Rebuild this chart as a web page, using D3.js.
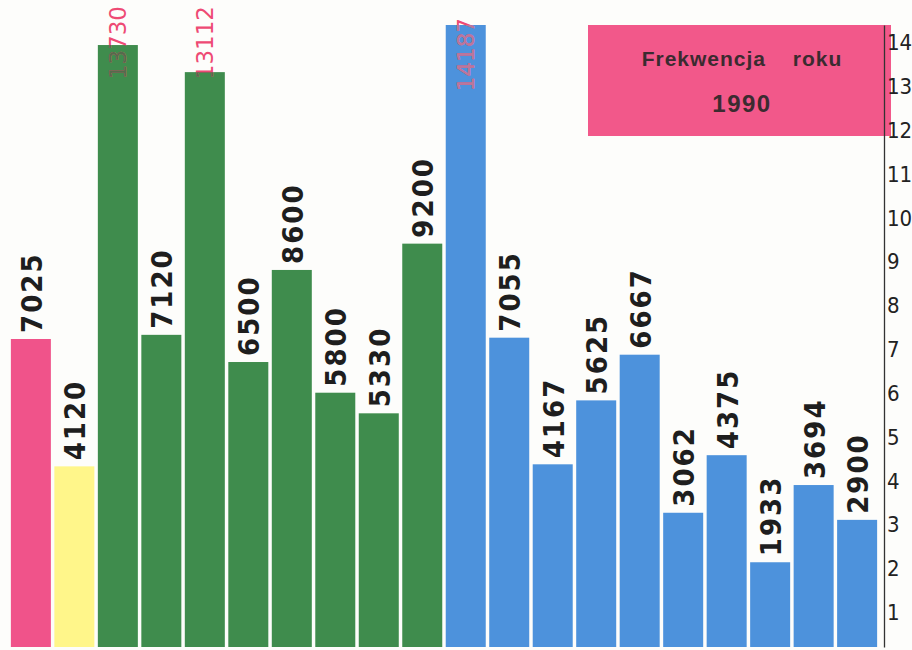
<!DOCTYPE html>
<html>
<head>
<meta charset="utf-8">
<script src="https://cdn.jsdelivr.net/npm/d3@7"></script>
<style>
  html, body { margin: 0; padding: 0; background: #fdfdfb; }
  svg { display: block; }
</style>
</head>
<body>
<svg id="chart" width="912" height="650"></svg>
<script>
// ---- data ----
const values = [7025, 4120, 13730, 7120, 13112, 6500, 8600, 5800, 5330, 9200,
                14187, 7055, 4167, 5625, 6667, 3062, 4375, 1933, 3694, 2900];
const groups = ["pink", "yellow", "green", "green", "green", "green", "green", "green", "green", "green",
                "blue", "blue", "blue", "blue", "blue", "blue", "blue", "blue", "blue", "blue"];
const axisTicks = [1, 2, 3, 4, 5, 6, 7, 8, 9, 10, 11, 12, 13, 14];
const legendLines = ["Frekwencja  roku", "1990"];

// ---- styles ----
const colors = { pink: "#f0538a", yellow: "#fff68a", green: "#3f8c4d", blue: "#4d92dc" };
const svg = d3.select("#chart");

const x = d3.scaleBand().domain(d3.range(values.length)).range([10, 878]).paddingInner(0.08).paddingOuter(0.02);
const y = d3.scaleLinear().domain([0, 14187]).range([647, 25]);

const defs = svg.append("defs");

// bars
svg.append("g").selectAll("rect").data(values).join("rect")
  .attr("x", (d, i) => x(i))
  .attr("y", d => y(d))
  .attr("width", x.bandwidth())
  .attr("height", d => y(0) - y(d))
  .attr("fill", (d, i) => colors[groups[i]]);

// clip paths matching each bar (for two-tone labels)
values.forEach((d, i) => {
  defs.append("clipPath").attr("id", "clip" + i).append("rect")
    .attr("x", x(i)).attr("y", y(d)).attr("width", x.bandwidth()).attr("height", y(0) - y(d));
});

const tall = 13000;
const lab = svg.append("g");

// handwritten-like labels above bars
values.forEach((d, i) => {
  if (d >= tall) return;
  const cx = x(i) + x.bandwidth() / 2;
  const by = y(d) - 6;
  lab.append("text")
    .attr("transform", `translate(${cx + 11},${by}) rotate(-90)`)
    .attr("font-family", "'DejaVu Sans Condensed', 'DejaVu Sans', sans-serif")
    .attr("font-stretch", "condensed")
    .attr("font-weight", "bold")
    .attr("font-size", 29)
    .attr("letter-spacing", 2)
    .attr("fill", "#1e1e1e")
    .text(d);
});

// tall labels: printed digits reaching the top of the sheet, darker where over the bar
values.forEach((d, i) => {
  if (d < tall) return;
  const cx = x(i) + x.bandwidth() / 2;
  const topY = groups[i] === "blue" ? 18 : 6;
  const inside = groups[i] === "blue" ? "#b9789c" : "#556b4c";
  const mk = (col, clip) => {
    const g = lab.append("g");
    if (clip) g.attr("clip-path", `url(#clip${i})`);
    g.append("text")
      .attr("transform", `translate(${cx + 8},${topY}) rotate(-90)`)
      .attr("text-anchor", "end")
      .attr("font-family", "'DejaVu Sans', sans-serif")
      .attr("font-size", 23)
      .attr("fill", col)
      .text(d);
  };
  mk("#ee4a74", false);
  mk(inside, true);
});

// legend box
const lg = svg.append("g");
lg.append("rect").attr("x", 588).attr("y", 25).attr("width", 303).attr("height", 111)
  .attr("fill", "#f2588a");
lg.selectAll("text").data(legendLines).join("text")
  .attr("x", 742)
  .attr("y", (d, i) => 66 + i * 46)
  .attr("text-anchor", "middle")
  .attr("font-family", "'Liberation Sans', Arial, sans-serif")
  .attr("font-weight", "bold")
  .attr("font-size", (d, i) => i === 0 ? 21 : 24)
  .attr("word-spacing", 20)
  .attr("letter-spacing", (d, i) => i === 0 ? 1 : 1.5)
  .attr("fill", "#3b2b30")
  .text(d => d);

// right axis (hand-drawn scale, thousands), clipped by the page edge
const ax = svg.append("g").attr("transform", "translate(884,0)")
  .call(d3.axisRight(y).tickValues(axisTicks.map(t => t * 1000)).tickFormat(d => d / 1000).tickSize(0).tickPadding(3));
ax.select(".domain").attr("stroke", "#333").attr("stroke-width", 1.3);
ax.selectAll("text")
  .attr("font-family", "'DejaVu Sans Condensed', 'DejaVu Sans', sans-serif")
  .attr("font-size", 22)
  .attr("dy", "0.75em")
  .attr("fill", "#222");
</script>
</body>
</html>
